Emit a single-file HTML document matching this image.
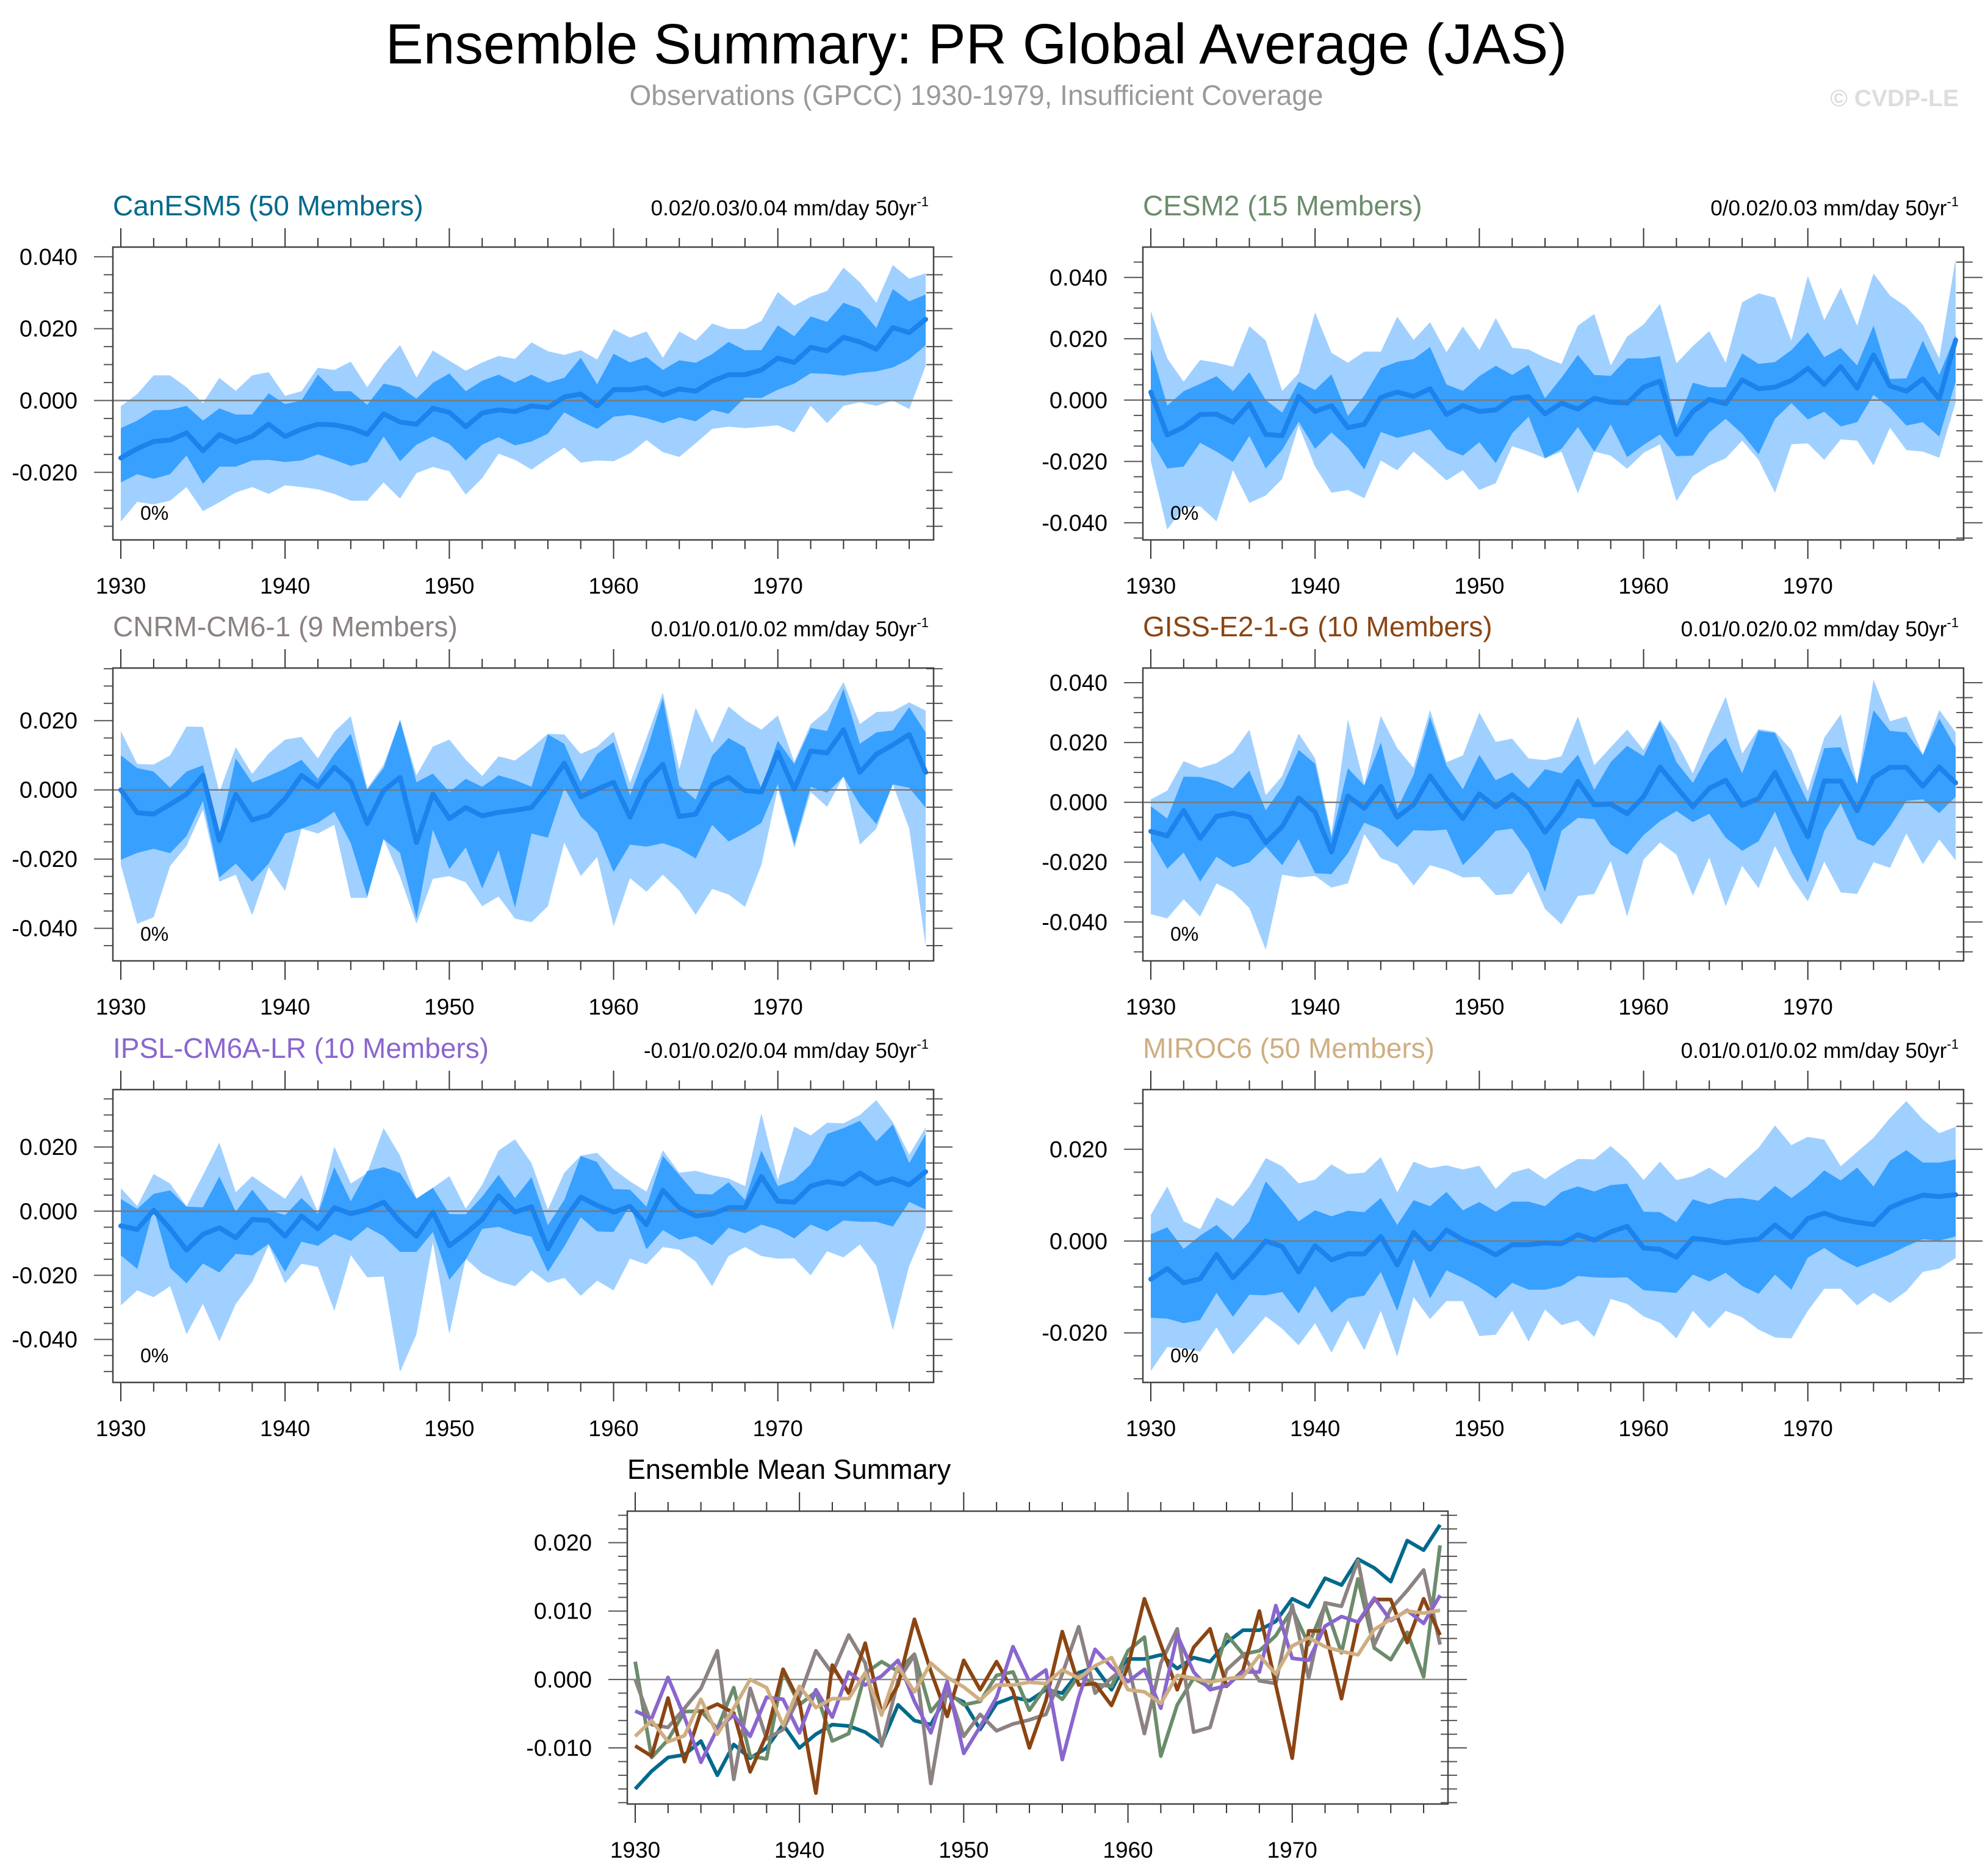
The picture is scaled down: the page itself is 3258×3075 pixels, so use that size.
<!DOCTYPE html>
<html><head><meta charset="utf-8"><title>Ensemble Summary: PR Global Average (JAS)</title>
<style>
html,body{margin:0;padding:0;background:#fff;}
svg{display:block;font-family:"Liberation Sans",Arial,sans-serif;}
</style></head>
<body>
<svg id="chart" xmlns="http://www.w3.org/2000/svg" width="3258" height="3075" viewBox="0 0 3258 3075">
<rect x="0" y="0" width="3258" height="3075" fill="#fff"/>
<text x="1600" y="104" text-anchor="middle" font-size="93" fill="#000">Ensemble Summary: PR Global Average (JAS)</text>
<text x="1600" y="172" text-anchor="middle" font-size="46" fill="#9a9a9a">Observations (GPCC) 1930-1979, Insufficient Coverage</text>
<text x="3210" y="174" text-anchor="end" font-size="39" font-weight="bold" fill="#dddddd">© CVDP-LE</text>
<g id="plots"></g>
</svg>
<script>
const years = [];
for (let y = 1930; y <= 1979; y++) years.push(y);

// CanESM5
const canMin = [-.0337,-.0282,-.0289,-.0279,-.0241,-.0308,-.0283,-.0256,-.0241,-.026,
-.0236,-.0241,-.0247,-.026,-.0279,-.0279,-.0228,-.0273,-.0202,-.0185,
-.0197,-.0262,-.0216,-.0148,-.0165,-.0192,-.0161,-.0131,-.0173,-.0167,
-.0169,-.0147,-.011,-.0144,-.0157,-.0119,-.0079,-.0073,-.0077,-.0073,
-.0069,-.0089,-.0015,-.0063,-.0015,-.0005,-.0015,0,-.0024,.0096];
const canP10 = [-.0228,-.0205,-.0218,-.0205,-.0153,-.0232,-.0184,-.0184,-.0167,-.0165,
-.0171,-.0167,-.015,-.0165,-.0182,-.0171,-.01,-.0169,-.0123,-.01,
-.0121,-.0167,-.0123,-.0102,-.0125,-.0114,-.0092,-.0033,-.0058,-.0079,
-.0045,-.004,-.0049,-.0063,-.0047,-.0058,-.0026,-.0037,.0008,.0007,
.003,.0047,.0076,.0074,.0069,.0077,.0081,.0092,.0115,.0154];
const canMean = [-.016,-.0134,-.0114,-.011,-.009,-.014,-.0095,-.0115,-.010,-.0066,
-.010,-.008,-.0066,-.0068,-.0077,-.0094,-.0037,-.006,-.0066,-.0022,
-.0033,-.0073,-.0035,-.0026,-.0031,-.0015,-.002,.001,.0018,-.0015,
.003,.003,.0036,.0016,.0032,.0026,.0054,.0072,.0072,.0085,
.0118,.0106,.0148,.0138,.0176,.0163,.0143,.0203,.0189,.0226];
const canP90 = [-.0077,-.0056,-.0027,-.0026,-.0015,-.0056,-.0022,-.0039,-.0039,.002,
-.001,0,.0072,.0026,.0026,-.0012,.0047,.0037,.0005,.0049,
.0075,.0026,.0055,.0072,.005,.0072,.005,.0063,.0119,.0045,
.013,.0106,.0121,.0085,.0112,.0105,.0129,.0163,.014,.014,
.0209,.0179,.0234,.0219,.0272,.0255,.0202,.031,.0276,.0295];
const canMax = [-.0016,.0018,.007,.007,.0037,-.0007,.0063,.0027,.007,.0079,
.0013,.0026,.0091,.0085,.0108,.0037,.0102,.0154,.0064,.0139,
.0111,.0083,.0106,.0124,.0116,.0162,.0137,.0127,.014,.0114,
.0198,.0175,.0192,.0119,.0192,.0167,.0214,.0199,.0199,.0221,
.0302,.0264,.0289,.0305,.037,.0329,.0272,.0377,.0339,.0354];

// CESM2
const cesMin = [-.0199,-.0422,-.0351,-.0346,-.0396,-.0228,-.0335,-.0311,-.0257,-.0083,
-.0217,-.0302,-.0293,-.032,-.0197,-.0229,-.0168,-.0213,-.0262,-.0229,
-.0293,-.0271,-.015,-.0168,-.019,-.0168,-.0304,-.0168,-.0181,-.0224,
-.0172,-.0144,-.0329,-.0248,-.0213,-.019,-.0132,-.0195,-.0302,-.0144,
-.0141,-.0195,-.0128,-.0132,-.0213,-.009,-.0163,-.0168,-.0188,-.0007];
const cesP10 = [-.013,-.0223,-.0217,-.0139,-.0168,-.0202,-.0117,-.0223,-.0162,-.007,
-.0159,-.0105,-.0155,-.0226,-.0104,-.0123,-.011,-.0095,-.0159,-.0181,
-.0137,-.0206,-.0108,-.0054,-.019,-.0159,-.0088,-.0168,-.0079,-.0186,
-.0146,-.0112,-.0183,-.0181,-.0105,-.0061,-.011,-.0177,-.0061,-.001,
-.0063,-.0038,-.0086,-.0072,.0017,-.0025,-.0083,-.0072,-.0119,.006];
const cesMean = [.0026,-.0114,-.0088,-.0047,-.0046,-.0072,-.0012,-.0112,-.0116,.0012,
-.0037,-.0018,-.009,-.0079,.0009,.0026,.0012,.0037,-.0047,-.0018,
-.0037,-.0032,.0006,.0011,-.0045,-.001,-.0029,.0006,-.0007,-.001,
.0042,.0062,-.0112,-.0037,.0002,-.0012,.0066,.0037,.0042,.0064,
.0103,.0051,.0109,.0039,.0147,.0046,.0029,.0069,.0004,.0196];
const cesP90 = [.0167,-.0018,.0029,.0053,.0078,.0029,.0091,0,-.0041,.006,
.0033,.0084,-.0052,.0015,.0104,.0125,.0134,.0173,.0051,.003,
.0078,.0112,.0082,.0115,.0006,.0073,.0147,.0082,.0079,.0136,
.0136,.0143,-.0083,.0057,.0042,.0042,.0152,.0118,.0124,.0163,
.0221,.014,.017,.0113,.0243,.0069,.0071,.0194,.0082,.0213];
const cesMax = [.029,.0136,.006,.0131,.0122,.0109,.0241,.0194,.003,.0087,
.0286,.0154,.0122,.0158,.0158,.0272,.0196,.0254,.0156,.024,
.0163,.0267,.0171,.0165,.0138,.0118,.0243,.0281,.0113,.0207,
.0247,.0314,.012,.0176,.0225,.0122,.0319,.0348,.0334,.0194,
.0405,.0261,.0366,.0243,.0413,.0341,.0304,.0246,.0136,.0462];

// CNRM-CM6-1
const cnrMin = [-.0217,-.0387,-.0368,-.022,-.0162,-.0057,-.0265,-.0245,-.0362,-.0223,
-.0292,-.0112,-.0126,-.0101,-.0312,-.0312,-.0142,-.0251,-.0387,-.0257,
-.0249,-.0267,-.0336,-.0308,-.0372,-.0382,-.0336,-.0152,-.0249,-.0194,
-.0394,-.0255,-.0294,-.0245,-.0291,-.0361,-.0286,-.0302,-.0338,-.0217,
.0004,-.0168,-.0006,-.0049,.004,-.0158,-.0112,.0016,-.0112,-.0451];
const cnrP10 = [-.0202,-.0182,-.017,-.0183,-.0133,-.0032,-.0253,-.0213,-.0265,-.0213,
-.0126,-.0112,-.0095,-.0063,-.0154,-.0308,-.0142,-.0182,-.0372,-.0115,
-.0229,-.0166,-.0285,-.0174,-.034,-.0126,-.0138,.0006,-.0077,-.0123,
-.0237,-.0158,-.0164,-.0154,-.017,-.0198,-.0101,-.0149,-.0125,-.0095,
.0017,-.0158,.0009,-.0008,.0038,-.0043,-.0099,.0016,.0006,-.0051];
const cnrMean = [0,-.0066,-.007,-.0042,-.0013,.0042,-.0146,-.0013,-.0087,-.0073,
-.0025,.0042,.0009,.0065,.0024,-.0097,-.0002,.0036,-.0152,-.0012,
-.0083,-.0051,-.0075,-.0065,-.0059,-.0051,.0008,.0077,-.002,.0002,
.0022,-.0079,.0024,.0074,-.0077,-.007,.0014,.0036,-.0002,-.0006,
.0109,.0002,.0112,.0107,.0174,.0051,.0103,.013,.016,.0051];
const cnrP90 = [.01,.0063,.0053,.0006,.0053,.0071,-.0126,.0091,.0021,.004,
.0061,.0087,.0032,.0104,.0162,0,.0063,.0202,.0022,.0047,
-.0006,.0032,.0009,.0042,.0028,.0009,.016,.0133,.0024,.0104,
.0138,-.0016,.0111,.0265,.0012,-.0028,.0099,.015,.0123,.0004,
.0142,.0075,.0179,.017,.0292,.0133,.0166,.0172,.0239,.0166];
const cnrMax = [.017,.0075,.0073,.01,.0183,.0182,-.0006,.0123,.0046,.0105,
.0145,.0153,.0091,.0168,.0213,.0004,.0073,.0202,.0042,.0125,
.0145,.0087,.004,.0097,.0085,.0121,.0162,.016,.0104,.0125,
.0168,.002,.015,.0281,.0059,.0237,.0136,.0241,.0202,.0174,
.0215,.0081,.019,.0229,.0312,.019,.0225,.0227,.0253,.0229];

// GISS-E2-1-G
const gisMin = [-.0374,-.0388,-.0324,-.0382,-.0271,-.0299,-.0353,-.0493,-.0242,-.0251,
-.0246,-.0285,-.0271,-.0106,-.0187,-.0207,-.0278,-.021,-.0226,-.0251,
-.0249,-.031,-.0306,-.0232,-.0356,-.0408,-.0313,-.0306,-.0196,-.0382,
-.0191,-.0134,-.0175,-.0312,-.0185,-.0347,-.0212,-.0287,-.0146,-.0251,
-.0331,-.0198,-.0301,-.0306,-.02,-.0219,-.0104,-.0207,-.0124,-.0194];
const gisP10 = [-.0127,-.0222,-.0168,-.0265,-.0182,-.0217,-.02,-.0148,-.021,-.0123,
-.0237,-.024,-.017,-.0068,-.0091,-.015,-.0093,-.0095,-.0091,-.021,
-.0155,-.0095,-.0088,-.0164,-.0299,-.0095,-.0052,-.0056,-.0141,-.0175,
-.0109,-.0063,-.0029,-.0066,-.0038,-.0118,-.0162,-.013,-.0031,-.0164,
-.0267,-.0095,-.0004,-.0123,-.0146,-.0081,.0005,.001,-.0036,.0019];
const gisMean = [-.0097,-.0112,-.0027,-.012,-.0047,-.0036,-.0049,-.0135,-.0081,.0015,
-.0033,-.0166,.0021,-.002,.0053,-.0049,-.0008,.0088,.0012,-.0054,
.0028,-.0015,.0026,-.0017,-.01,-.0031,.007,-.0008,-.0006,-.0038,
.0019,.0118,.0051,-.0015,.0047,.0074,-.001,.0013,.01,-.0008,
-.0115,.0071,.0071,-.0028,.0083,.0117,.0117,.0054,.0118,.0065];
const gisP90 = [-.0013,-.0054,.0086,.0085,.0071,.0047,.0106,-.0027,.0053,.0175,
.0129,-.0118,.0114,.0056,.02,-.0022,.0092,.0285,.0123,.0044,
.0159,.0074,.01,.0047,.0111,.0097,.0159,.0042,.0135,.0189,
.0154,.0271,.0134,.0065,.0163,.0216,.0097,.0239,.0232,.0115,
0,.0181,.0184,.0062,.0308,.0239,.0234,.0158,.028,.0184];
const gisMax = [.001,.0039,.0138,.0115,.0131,.0166,.0243,.0024,.0088,.023,
.0147,-.0107,.0277,.006,.0289,.0181,.0115,.0309,.0134,.0157,
.03,.0202,.0213,.0147,.0141,.0154,.0287,.0124,.0184,.0243,
.0175,.0276,.0202,.0097,.023,.0353,.0163,.0245,.0236,.0175,
.0038,.0216,.0294,.0062,.041,.0271,.0287,.0159,.0309,.0234];

// IPSL-CM6A-LR
const ipsMin = [-.0294,-.0247,-.0268,-.0234,-.0384,-.0289,-.0406,-.0289,-.0221,-.0106,
-.0225,-.0164,-.0174,-.0311,-.0137,-.0206,-.0204,-.0501,-.0384,-.0097,
-.0384,-.0148,-.0194,-.0219,-.0234,-.0185,-.0223,-.0208,-.0264,-.0217,
-.0247,-.0148,-.0166,-.0112,-.012,-.0157,-.0234,-.014,-.0112,-.014,
-.0148,-.0147,-.02,-.0125,-.0144,-.0104,-.017,-.0371,-.017,-.0052];
const ipsP10 = [-.0138,-.018,.0008,-.0177,-.0225,-.0163,-.0191,-.0133,-.0138,-.0102,
-.0189,-.0095,-.0108,-.0072,-.0093,-.005,-.0078,-.0127,-.0127,-.0065,
-.0214,-.0151,-.0055,-.0049,-.0067,-.008,-.0189,-.011,-.0019,-.0063,
-.0065,.0018,-.0119,-.0059,-.0089,-.0078,-.0106,-.0052,-.0069,-.0042,
-.0057,-.0085,-.0042,-.0063,-.0029,-.0033,-.0033,-.0048,.0029,.0005];
const ipsMean = [-.0046,-.0057,.0003,-.0055,-.0121,-.0072,-.0052,-.0083,-.0026,-.0029,
-.0078,-.0015,-.0055,.0011,-.0008,.0005,.0028,-.0032,-.0078,-.0003,
-.0108,-.0069,-.0026,.0048,-.0003,.0014,-.0117,-.0026,.0044,.0018,
-.0003,.0015,-.0042,.0065,.0011,-.0015,-.0009,.0011,.0011,.0108,
.0031,.0028,.0078,.0092,.0084,.0119,.0086,.0101,.0082,.0123];
const ipsP90 = [.0038,.0007,.0054,.0065,.0014,.0012,.0108,-.0002,.0067,.0003,
-.0012,.0041,-.0008,.0137,.0031,.0125,.0137,.0119,.0039,.0073,
-.0009,-.001,.0045,.0113,.0041,.0106,-.0044,.0035,.0172,.0153,
.0069,.0067,.0014,.0172,.0113,.0054,.0052,.009,.0035,.0189,
.0078,.0097,.0146,.0241,.0259,.0282,.0218,.027,.015,.024];
const ipsMax = [.0072,.0016,.0116,.0086,.0015,.0112,.0214,.0059,.0109,.0073,
.0039,.0113,-.0003,.0201,.0086,.0119,.0259,.0173,.0039,.0073,
.0109,.0008,.0082,.0189,.0224,.015,.0005,.012,.0173,.0182,
.0131,.0093,.0061,.019,.012,.0126,.0112,.0102,.0078,.0305,
.0097,.0264,.0236,.0276,.0274,.03,.0346,.0278,.0176,.0261];

// MIROC6
const mirMin = [-.0283,-.0231,-.0234,-.0241,-.0188,-.0247,-.0206,-.0164,-.0191,-.0227,
-.0179,-.0243,-.0173,-.0238,-.0152,-.0252,-.0122,-.017,-.0131,-.0131,
-.0207,-.0204,-.0152,-.0219,-.0149,-.0183,-.0173,-.0209,-.0126,-.0137,
-.0164,-.0178,-.0212,-.0152,-.019,-.0152,-.0166,-.0193,-.021,-.0212,
-.0152,-.0104,-.0104,-.014,-.0113,-.0135,-.0109,-.0067,-.006,-.0037];
const mirP10 = [-.0167,-.0169,-.0179,-.0172,-.0113,-.0165,-.0117,-.0118,-.0111,-.0158,
-.0098,-.0156,-.0125,-.0119,-.0067,-.0152,-.0039,-.0125,-.0064,-.008,
-.01,-.0125,-.0091,-.0106,-.0106,-.0098,-.0076,-.0079,-.008,-.0079,
-.0107,-.011,-.0113,-.0073,-.0088,-.0069,-.0098,-.0115,-.0073,-.0106,
-.0036,-.0015,-.0039,-.0057,-.0043,-.0029,-.0011,.0004,.0001,.001];
const mirMean = [-.0083,-.006,-.0091,-.0082,-.0029,-.008,-.0042,0,-.0012,-.0067,
-.001,-.0041,-.0028,-.0028,.001,-.0052,.0019,-.0018,.0024,.0003,
-.0011,-.003,-.0008,-.0008,-.0004,-.0006,.0014,.0002,.002,.0032,
-.0015,-.0018,-.0035,.0006,.0002,-.0004,.0001,.0004,.0035,.0008,
.0049,.0061,.0048,.0041,.0036,.0073,.0088,.01,.0097,.0101];
const mirP90 = [.0015,.003,-.0017,.0012,.0035,.0003,.0043,.013,.0088,.0043,
.0067,.0054,.0066,.0063,.0094,.0035,.0089,.0076,.0107,.0067,
.0085,.0064,.0086,.0086,.0076,.0107,.0119,.0108,.0122,.0125,
.0064,.0063,.0041,.0091,.008,.0092,.0094,.0088,.012,.0094,
.012,.0154,.0132,.016,.0119,.0175,.0198,.0171,.0171,.0178];
const mirMax = [.0057,.0119,.0043,.0026,.0095,.0076,.0119,.0181,.0163,.0126,
.0134,.0167,.0146,.0149,.0183,.0106,.0173,.0159,.0165,.0156,
.0164,.0114,.0149,.0159,.0135,.0159,.0179,.0178,.0207,.0176,
.0133,.0173,.0133,.0141,.016,.0137,.0171,.0203,.0252,.0209,
.0227,.0221,.0163,.0194,.0225,.0268,.0305,.0265,.0235,.0249];

const modelNames = ['CanESM5','CESM2','CNRM-CM6-1','GISS-E2-1-G','IPSL-CM6A-LR','MIROC6'];
const memberCounts = [50,15,9,10,10,50];
const trendLabels = ['0.02/0.03/0.04','0/0.02/0.03','0.01/0.01/0.02','0.01/0.02/0.02','-0.01/0.02/0.04','0.01/0.01/0.02'];
const yLabelSets = [[.04,.02,0,-.02],[.04,.02,0,-.02,-.04],[.02,0,-.02,-.04],[.04,.02,0,-.02,-.04],[.02,0,-.02,-.04],[.02,0,-.02]];
const summaryYLabels = [.02,.01,0,-.01];
const xTickYears = [1930,1940,1950,1960,1970];

const NS = 'http://www.w3.org/2000/svg';
const root = document.getElementById('plots');
function el(tag, attrs, parent) {
  const e = document.createElementNS(NS, tag);
  for (const k in attrs) e.setAttribute(k, attrs[k]);
  (parent || root).appendChild(e);
  return e;
}

const modelColors = ['#00698C','#6B8C6B','#8C8282','#8B4513','#8A66CF','#CFAE82'];
const seriesSets = [
  [canMin,canP10,canMean,canP90,canMax],
  [cesMin,cesP10,cesMean,cesP90,cesMax],
  [cnrMin,cnrP10,cnrMean,cnrP90,cnrMax],
  [gisMin,gisP10,gisMean,gisP90,gisMax],
  [ipsMin,ipsP10,ipsMean,ipsP90,ipsMax],
  [mirMin,mirP10,mirMean,mirP90,mirMax]
];
const yRanges = [[-.0388,.0427],[-.0456,.0499],[-.0494,.0352],[-.053,.0449],[-.0534,.0379],[-.0308,.033]];
const boxPos = [[185,405],[1873,405],[185,1095],[1873,1095],[185,1786],[1873,1786]];
const BW = 1345, BH = 480, PAD = 13;

function makeAxes(bx, by, ymin, ymax) {
  const xs = y => bx + PAD + (y - 1930) * (BW - 2 * PAD) / 49;
  const ys = v => by + BH - (v - ymin) / (ymax - ymin) * BH;
  return {xs, ys};
}

function drawFrame(g, bx, by, ax, ymin, ymax, labels, minorStep, prefix) {
  const {xs, ys} = ax;
  for (let y = 1930; y <= 1979; y += 2) {
    const major = (y % 10 === 0);
    const L = major ? 31 : 15;
    const x = xs(y);
    const t1 = el('line', {x1:x, y1:by, x2:x, y2:by - L, stroke:'#333', 'stroke-width':2}, g);
    
    
    const t2 = el('line', {x1:x, y1:by + BH, x2:x, y2:by + BH + L, stroke:'#333', 'stroke-width':2}, g);
    
    
  }
  xTickYears.forEach(y => {
    const t = el('text', {x:xs(y), y:by + BH + 88, 'text-anchor':'middle', 'font-size':37, fill:'#000'}, g);
    t.textContent = String(y);
    
    
  });
  const k0 = Math.ceil(ymin / minorStep - 1e-9), k1 = Math.floor(ymax / minorStep + 1e-9);
  for (let k = k0; k <= k1; k++) {
    const v = k * minorStep;
    const isMajor = labels.some(l => Math.abs(l - v) < 1e-9);
    const y = ys(v);
    const L = isMajor ? 31 : 15;
    const a = el('line', {x1:bx - L, y1:y, x2:bx, y2:y, stroke:'#555', 'stroke-width':2}, g);
    
    
    const b = el('line', {x1:bx + BW - (isMajor ? 0 : 12), y1:y, x2:bx + BW + L, y2:y, stroke:'#555', 'stroke-width':2}, g);
    
    
  }
  labels.forEach(v => {
    const t = el('text', {x:bx - 58, y:ys(v) + 13, 'text-anchor':'end', 'font-size':38, fill:'#000'}, g);
    t.textContent = v.toFixed(3);
    
    
  });
  const fr = el('rect', {x:bx, y:by, width:BW, height:BH, fill:'none', stroke:'#444', 'stroke-width':2.5}, g);
  
  
}

function bandPath(ax, upper, lower) {
  const n = Math.min(upper.length, lower.length, years.length);
  let d = '';
  for (let i = 0; i < n; i++) d += (i ? 'L' : 'M') + ax.xs(years[i]).toFixed(1) + ',' + ax.ys(upper[i]).toFixed(1);
  for (let i = n - 1; i >= 0; i--) d += 'L' + ax.xs(years[i]).toFixed(1) + ',' + ax.ys(lower[i]).toFixed(1);
  return d + 'Z';
}
function linePath(ax, vals) {
  const n = Math.min(vals.length, years.length);
  let d = '';
  for (let i = 0; i < n; i++) d += (i ? 'L' : 'M') + ax.xs(years[i]).toFixed(1) + ',' + ax.ys(vals[i]).toFixed(1);
  return d;
}

for (let p = 0; p < 6; p++) {
  const [bx, by] = boxPos[p];
  const [ymin, ymax] = yRanges[p];
  const slug = modelNames[p].toLowerCase();
  const g = el('g', {});
  
  
  const ax = makeAxes(bx, by, ymin, ymax);
  const [mn, p10, mean, p90, mx] = seriesSets[p];
  const b1 = el('path', {d:bandPath(ax, mx, mn), fill:'#A0D0FF', stroke:'none'}, g);
  
  
  const b2 = el('path', {d:bandPath(ax, p90, p10), fill:'#38A0FF', stroke:'none'}, g);
  
  
  const z = el('line', {x1:bx, y1:ax.ys(0), x2:bx + BW, y2:ax.ys(0), stroke:'#7a7a7a', 'stroke-width':2.5}, g);
  
  
  const ml = el('path', {d:linePath(ax, mean), fill:'none', stroke:'#1C82EC', 'stroke-width':8, 'stroke-linejoin':'round', 'stroke-linecap':'round'}, g);
  
  
  drawFrame(g, bx, by, ax, ymin, ymax, yLabelSets[p], 0.005, slug);
  const tt = el('text', {x:bx, y:by - 52, 'font-size':46, fill:modelColors[p]}, g);
  tt.textContent = modelNames[p] + ' (' + memberCounts[p] + ' Members)';
  
  
  const tr = el('text', {x:bx + BW - 8, y:by - 52, 'text-anchor':'end', 'font-size':35, fill:'#000'}, g);
  tr.textContent = trendLabels[p] + ' mm/day 50yr';
  const sup = el('tspan', {'font-size':22, dy:-15}, tr);
  sup.textContent = '-1';
  
  
  const pc = el('text', {x:bx + 45, y:by + BH - 33, 'font-size':32, fill:'#000'}, g);
  pc.textContent = '0%';
  
  
}

{
  const bx = 1028, by = 2477, ymin = -.0182, ymax = .0246;
  const g = el('g', {});
  
  
  const ax = makeAxes(bx, by, ymin, ymax);
  const z = el('line', {x1:bx, y1:ax.ys(0), x2:bx + BW, y2:ax.ys(0), stroke:'#8a8a8a', 'stroke-width':2.5}, g);
  
  
  for (let p = 0; p < 6; p++) {
    const l = el('path', {d:linePath(ax, seriesSets[p][2]), fill:'none', stroke:modelColors[p], 'stroke-width':6, 'stroke-linejoin':'round'}, g);
    
    
  }
  drawFrame(g, bx, by, ax, ymin, ymax, summaryYLabels, 0.002, 'summary');
  const t = el('text', {x:bx, y:2424, 'font-size':45, fill:'#000'}, g);
  t.textContent = 'Ensemble Mean Summary';
  
  
}
</script>
</body></html>
